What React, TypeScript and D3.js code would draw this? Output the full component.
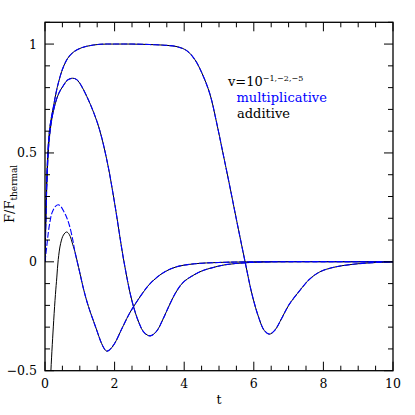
import { useMemo } from 'react';
import * as d3 from 'd3';

// [t, F/F_thermal]
const v1Mult: [number, number][] = [
  [0, 0], [0.05, 0.07], [0.1, 0.14], [0.15, 0.19], [0.2, 0.225], [0.3, 0.255],
  [0.38, 0.262], [0.45, 0.255], [0.55, 0.228], [0.62, 0.205], [0.7, 0.168],
  [0.8, 0.1], [0.86, 0.046], [1.0, -0.05], [1.1, -0.12], [1.2, -0.18],
  [1.3, -0.23], [1.4, -0.275], [1.5, -0.32], [1.6, -0.365], [1.7, -0.398],
  [1.77, -0.41], [1.85, -0.405], [2.0, -0.375], [2.2, -0.31], [2.4, -0.245],
  [2.54, -0.207], [2.8, -0.145], [3.02, -0.1], [3.4, -0.05], [3.78, -0.023],
  [4.3, -0.009], [5, -0.003], [6, 0], [10, 0],
];
const v1Add: [number, number][] = [
  [0.08, -0.95], [0.12, -0.72], [0.17, -0.5], [0.25, -0.27], [0.3, -0.15],
  [0.34, -0.07], [0.38, 0.01], [0.45, 0.085], [0.53, 0.123], [0.62, 0.137],
  [0.7, 0.125], [0.8, 0.078], [0.86, 0.046], [1.0, -0.05], [1.1, -0.12],
  [1.2, -0.18], [1.3, -0.23], [1.4, -0.275], [1.5, -0.32], [1.6, -0.365],
  [1.7, -0.398], [1.77, -0.41], [1.85, -0.405], [2.0, -0.375], [2.2, -0.31],
  [2.4, -0.245], [2.54, -0.207], [2.8, -0.145], [3.02, -0.1], [3.4, -0.05],
  [3.78, -0.023], [4.3, -0.009], [5, -0.003], [6, 0], [10, 0],
];
const v2: [number, number][] = [
  [0, 0], [0.02, 0.15], [0.05, 0.34], [0.1, 0.52], [0.14, 0.59], [0.2, 0.66],
  [0.3, 0.73], [0.4, 0.775], [0.53, 0.81], [0.65, 0.835], [0.79, 0.843],
  [0.9, 0.838], [1.0, 0.82], [1.2, 0.76], [1.4, 0.685], [1.58, 0.6],
  [1.8, 0.45], [2.0, 0.27], [2.27, 0.0], [2.5, -0.18], [2.7, -0.28],
  [2.85, -0.325], [3.02, -0.34], [3.2, -0.32], [3.4, -0.26], [3.6, -0.19],
  [3.8, -0.13], [4.0, -0.09], [4.45, -0.046], [4.74, -0.03], [5.2, -0.013],
  [5.8, -0.004], [6.5, 0], [10, 0],
];
const v5: [number, number][] = [
  [0, 0], [0.02, 0.2], [0.05, 0.38], [0.1, 0.55], [0.15, 0.63], [0.24, 0.71],
  [0.35, 0.8], [0.53, 0.896], [0.7, 0.945], [0.91, 0.973], [1.2, 0.99],
  [1.58, 0.999], [2.0, 1.0], [2.5, 1.0], [3.0, 0.998], [3.5, 0.994],
  [3.8, 0.988], [4.07, 0.97], [4.3, 0.93], [4.5, 0.87], [4.74, 0.77],
  [4.93, 0.64], [5.1, 0.51], [5.3, 0.355], [5.5, 0.195], [5.75, 0.0],
  [5.95, -0.15], [6.15, -0.26], [6.3, -0.315], [6.45, -0.332], [6.6, -0.315],
  [6.8, -0.26], [7.0, -0.2], [7.33, -0.13], [7.6, -0.08], [7.9, -0.046],
  [8.3, -0.025], [8.76, -0.013], [9.3, -0.005], [10, 0],
];

const xTickLabels = [0, 2, 4, 6, 8, 10];
const yTickLabels = [-0.5, 0, 0.5, 1];

const W = 415;
const H = 415;
const m = { left: 45, right: 393, top: 22.3, bottom: 370.7 };
const font = "'DejaVu Serif', serif";

export default function App() {
  const x = useMemo(() => d3.scaleLinear().domain([0, 10]).range([m.left, m.right]), []);
  const y = useMemo(() => d3.scaleLinear().domain([-0.5, 1.1]).range([m.bottom, m.top]), []);

  const line = d3
    .line<[number, number]>()
    .x((d) => x(d[0]))
    .y((d) => y(d[1]))
    .curve(d3.curveCatmullRom.alpha(0.5));

  const xMinor = d3.range(0, 10.001, 0.5);
  const yMinor = d3.range(-0.5, 1.1001, 0.1);
  const isMajorX = (v: number) => Math.abs(v / 2 - Math.round(v / 2)) < 1e-6;
  const isMajorY = (v: number) => Math.abs(v / 0.5 - Math.round(v / 0.5)) < 1e-6;

  const black = [v1Add, v2, v5];
  const blue = [v1Mult, v2, v5];

  return (
    <svg width={W} height={H} style={{ position: 'absolute', left: 0, top: 0, background: '#fff' }}>
      <defs>
        <clipPath id="plot">
          <rect x={m.left} y={m.top} width={m.right - m.left} height={m.bottom - m.top} />
        </clipPath>
      </defs>

      <g clipPath="url(#plot)" fill="none">
        {black.map((d, i) => (
          <path key={'k' + i} d={line(d) ?? ''} stroke="#000" strokeWidth={1} />
        ))}
        {blue.map((d, i) => (
          <path key={'b' + i} d={line(d) ?? ''} stroke="#0000ff" strokeWidth={1.1} strokeDasharray="6,2" />
        ))}
      </g>

      {/* ticks on all four sides, pointing in */}
      <g stroke="#000" strokeWidth={1}>
        {xMinor.map((v) => {
          const len = isMajorX(v) ? 9 : 5;
          return (
            <g key={'x' + v}>
              <line x1={x(v)} x2={x(v)} y1={m.bottom} y2={m.bottom - len} />
              <line x1={x(v)} x2={x(v)} y1={m.top} y2={m.top + len} />
            </g>
          );
        })}
        {yMinor.map((v) => {
          const len = isMajorY(v) ? 9 : 5;
          return (
            <g key={'y' + v}>
              <line x1={m.left} x2={m.left + len} y1={y(v)} y2={y(v)} />
              <line x1={m.right} x2={m.right - len} y1={y(v)} y2={y(v)} />
            </g>
          );
        })}
      </g>
      <rect
        x={m.left}
        y={m.top}
        width={m.right - m.left}
        height={m.bottom - m.top}
        fill="none"
        stroke="#000"
        strokeWidth={1.3}
      />

      <g fontFamily={font} fontSize={12.5} fill="#000">
        {xTickLabels.map((v) => (
          <text key={'xl' + v} x={x(v)} y={388} textAnchor="middle">
            {v}
          </text>
        ))}
        {yTickLabels.map((v) => (
          <text key={'yl' + v} x={37} y={y(v) + 4.5} textAnchor="end">
            {v < 0 ? '\u2212' + Math.abs(v) : v}
          </text>
        ))}
        <text x={x(5)} y={404} textAnchor="middle">t</text>
        <text transform="translate(13.5,223) rotate(-90)" fontSize={13}>
          F/F
          <tspan fontSize={9} dy={3.5}>thermal</tspan>
        </text>
      </g>

      <g fontFamily={font} fontSize={13}>
        <text x={228} y={86} fill="#000">
          v=10
          <tspan fontSize={8} dy={-5}>{'\u22121,\u22122,\u22125'}</tspan>
        </text>
        <text x={236.5} y={102} fill="#0000ff">multiplicative</text>
        <text x={237} y={117.5} fill="#000">additive</text>
      </g>
    </svg>
  );
}
